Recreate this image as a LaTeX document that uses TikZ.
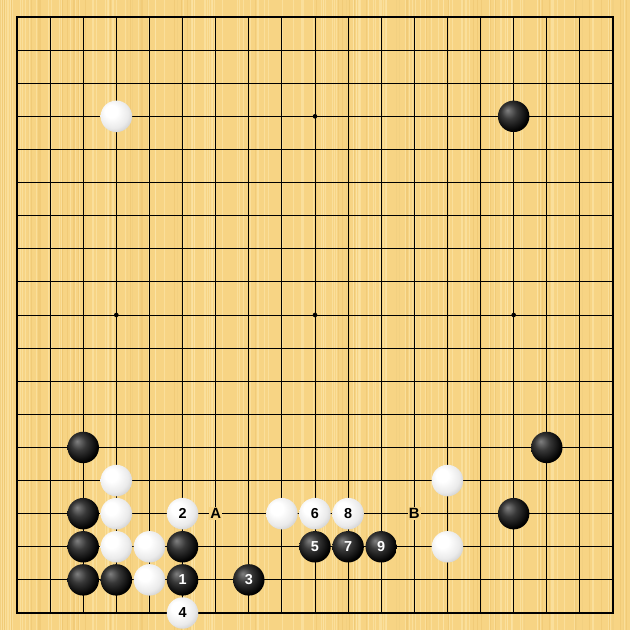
\documentclass[tikz,border=0pt]{standalone}
\usepackage{fontspec}
\setsansfont{Liberation Sans}
\definecolor{board}{RGB}{247,212,132}
\definecolor{grain}{RGB}{252,228,165}
\definecolor{darkgrain}{RGB}{238,198,112}
\pgfdeclareradialshading{whiteshade}{\pgfpoint{-10bp}{10bp}}{color(0bp)=(white); color(10bp)=(white); color(24bp)=(black!8); color(38bp)=(black!28); color(50bp)=(black!50)}
\pgfdeclareradialshading{blackshade}{\pgfpoint{-10bp}{10bp}}{color(0bp)=(black!50); color(12bp)=(black!78); color(28bp)=(black); color(42bp)=(black!92); color(50bp)=(black!68)}
\tikzset{
  stone/.style={circle, minimum size=0.475cm, inner sep=0pt, font=\fontsize{6.2}{6}\sffamily\bfseries},
  blackstone/.style={stone, shade, shading=blackshade, text=white},
  whitestone/.style={stone, shade, shading=whiteshade, text=black},
  boardletter/.style={fill=board, inner sep=0.6pt, font=\fontsize{6.4}{6}\sffamily\bfseries},
  hoshi/.style={circle, fill=black, inner sep=0pt, minimum size=0.07cm}
}
\begin{document}
\begin{tikzpicture}[x=0.5cm, y=-0.5cm]
  % board
  \fill[board] (-0.5135,-0.5135) rectangle (18.5135,18.5135);
  \useasboundingbox (-0.5135,-0.5135) rectangle (18.5135,18.5135);
  \pgfmathsetseed{11}
  \foreach \i in {1,...,160} {
    \pgfmathsetmacro{\gx}{-0.5+19*rnd}
    \pgfmathsetmacro{\gw}{0.1+0.5*rnd}
    \draw[grain, line width=\gw pt, opacity=0.7] (\gx,-0.5135) -- (\gx,18.5135);
  }
  \foreach \i in {1,...,70} {
    \pgfmathsetmacro{\gx}{-0.5+19*rnd}
    \draw[darkgrain, line width=0.3pt, opacity=0.6] (\gx,-0.5135) -- (\gx,18.5135);
  }
  \foreach \i in {0,...,18} {
    \draw[line width=0.4pt] (\i,0) -- (\i,18);
    \draw[line width=0.4pt] (0,\i) -- (18,\i);
  }
  \draw[line width=0.9pt] (0,0) rectangle (18,18);
  \foreach \x/\y in {3/3,9/3,15/3,3/9,9/9,15/9,3/15,9/15,15/15}
    \node[hoshi] (h-\x-\y) at (\x,\y) {};
  % stones
  \foreach \x/\y in {15/3,2/13,16/13,2/15,15/15,2/16,5/16,2/17,3/17}
    \node[blackstone] (s-\x-\y) at (\x,\y) {};
  \foreach \x/\y in {3/3,3/14,13/14,3/15,8/15,3/16,4/16,13/16,4/17}
    \node[whitestone] (s-\x-\y) at (\x,\y) {};
  % moves
  \foreach \x/\y/\n in {5/17/1,7/17/3,9/16/5,10/16/7,11/16/9}
    \node[blackstone] (m\n) at (\x,\y) {\n};
  \foreach \x/\y/\n in {5/15/2,5/18/4,9/15/6,10/15/8}
    \node[whitestone] (m\n) at (\x,\y) {\n};
  % letters
  \node[boardletter] (A) at (6,15) {A};
  \node[boardletter] (B) at (12,15) {B};
\end{tikzpicture}
\end{document}
